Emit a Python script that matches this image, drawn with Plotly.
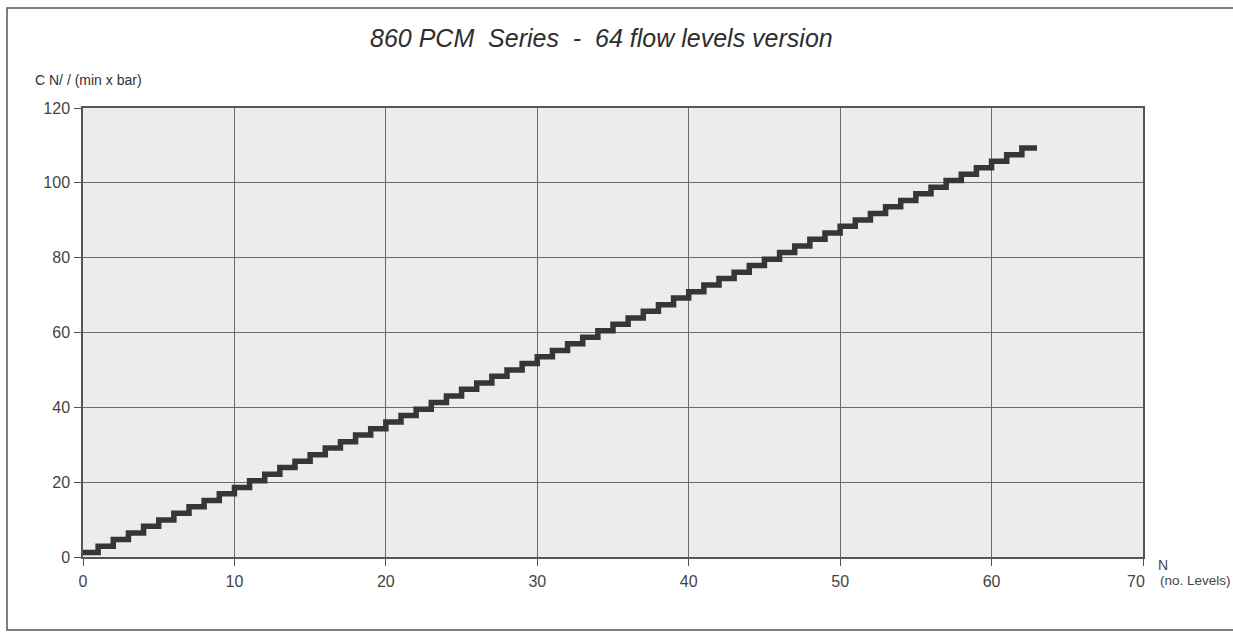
import plotly.graph_objects as go

# Flow coefficient per level (C N/ / (min x bar)), levels 0..62
levels = list(range(0, 63))
cn_values = [1.2, 2.9, 4.7, 6.4, 8.2, 9.9, 11.7, 13.4, 15.1, 16.9,
             18.6, 20.4, 22.1, 23.9, 25.6, 27.3, 29.1, 30.8, 32.6, 34.3,
             36.1, 37.8, 39.5, 41.3, 43.0, 44.8, 46.5, 48.3, 50.0, 51.7,
             53.5, 55.2, 57.0, 58.7, 60.5, 62.2, 63.9, 65.7, 67.4, 69.2,
             70.9, 72.7, 74.4, 76.1, 77.9, 79.6, 81.4, 83.1, 84.9, 86.6,
             88.4, 90.1, 91.8, 93.6, 95.3, 97.1, 98.8, 100.6, 102.3, 104.0,
             105.8, 107.5, 109.3]
x_ticks = [0, 10, 20, 30, 40, 50, 60, 70]
y_ticks = [0, 20, 40, 60, 80, 100, 120]

title_text = "860 PCM  Series  -  64 flow levels version"
y_title = "C N/ / (min x bar)"
x_title_top = "N"
x_title_bottom = "(no. Levels)"

OFF = 0  # body margin removed via post_script
W, H = 1233, 633
L, R, T, B = 83, 90, 108, 76
pw = W - L - R
ph = H - T - B

def px_x(px):
    return (px - OFF - L) / pw

def px_y(py):
    return (H - B - (py - OFF)) / ph

# step trace: extend last level to close the final step
xs = levels + [levels[-1] + 1]
ys = cn_values + [cn_values[-1]]

fig = go.Figure()
fig.add_trace(go.Scatter(
    x=xs, y=ys, mode="lines", line=dict(shape="hv", color="#363636", width=5.5),
    showlegend=False, hoverinfo="skip"))

font_family = "Liberation Sans, Arial, sans-serif"
axis_common = dict(
    showgrid=True, gridcolor="#6a6a6a", gridwidth=1,
    showline=True, linecolor="#555555", linewidth=1.5, mirror=True,
    ticks="outside", ticklen=7, tickcolor="#555555", tickwidth=1.2,
    zeroline=False,
    tickfont=dict(family=font_family, size=16, color="#444444"),
)
fig.update_layout(
    width=W, height=H,
    margin=dict(l=L, r=R, t=T, b=B),
    paper_bgcolor="white",
    plot_bgcolor="#ececec",
    xaxis=dict(range=[0, 70], tickvals=x_ticks,
               ticktext=[str(v) for v in x_ticks[:-1]] + [""],
               ticklabelstandoff=2, **axis_common),
    yaxis=dict(range=[0, 120], tickvals=y_ticks, ticklabelstandoff=1, **axis_common),
)

annotations = [
    dict(text="<i>" + title_text + "</i>", x=px_x(601), y=px_y(38), xref="paper", yref="paper",
         showarrow=False, font=dict(family=font_family, size=25, color="#2e2e2e"),
         xanchor="center", yanchor="middle"),
    dict(text=y_title, x=px_x(33), y=px_y(80), xref="paper", yref="paper",
         showarrow=False, font=dict(family=font_family, size=14, color="#333333"),
         xanchor="left", yanchor="middle"),
    dict(text=x_title_top, x=px_x(1163), y=px_y(565), xref="paper", yref="paper",
         showarrow=False, font=dict(family=font_family, size=14, color="#444444"),
         xanchor="center", yanchor="middle"),
    dict(text="70", x=px_x(1147), y=px_y(581), xref="paper", yref="paper",
         showarrow=False, font=dict(family=font_family, size=16, color="#444444"),
         xanchor="right", yanchor="middle"),
    dict(text=x_title_bottom, x=px_x(1158), y=px_y(580), xref="paper", yref="paper",
         showarrow=False, font=dict(family=font_family, size=13.5, color="#444444"),
         xanchor="left", yanchor="middle"),
]
fig.update_layout(annotations=annotations)

fig.add_shape(type="rect", xref="paper", yref="paper",
              x0=px_x(7), x1=px_x(1245), y0=px_y(630), y1=px_y(8),
              line=dict(color="#555555", width=1.5), fillcolor="rgba(0,0,0,0)", layer="below")

fig.write_html("out.html", config={"displayModeBar": False},
               post_script="document.body.style.margin='0';document.body.style.overflow='hidden';")
